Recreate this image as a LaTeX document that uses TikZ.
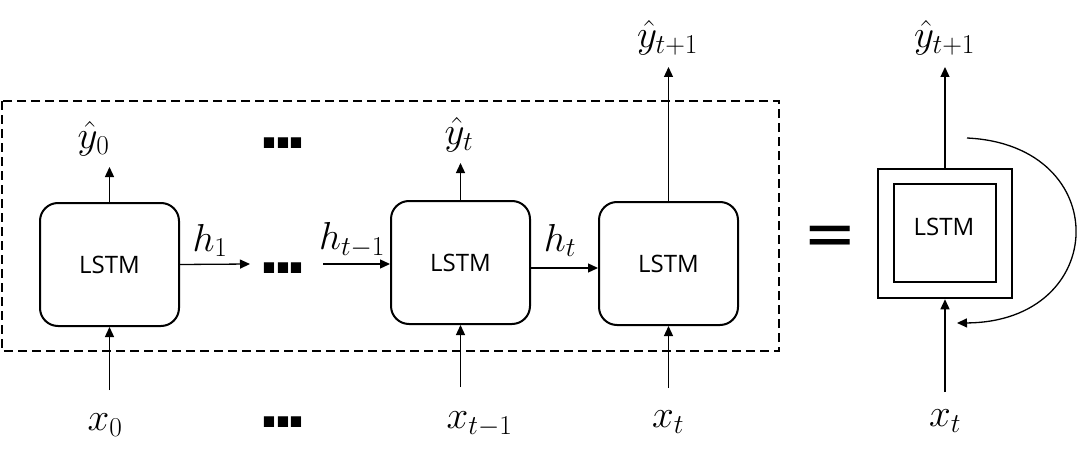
\documentclass[tikz,border=0pt]{standalone}
\usepackage{fix-cm}
\usepackage{fontspec}
\newfontfamily\lstmfont{Open Sans}
\newfontfamily\dotfont{Liberation Sans}
\newfontfamily\eqfont{DejaVu Sans}
\usetikzlibrary{arrows.meta}
\begin{document}
\begin{tikzpicture}[x=1pt,y=-1pt,
  cell/.style={draw,line width=2pt,rounded corners=18pt,minimum width=139pt,minimum height=123pt,inner sep=0pt,font=\lstmfont\fontsize{24}{28}\selectfont},
  sqbox/.style={draw,inner sep=0pt},
  arr/.style={line width=1.3pt,-{Triangle[length=10pt,width=9pt]}},
  lbl/.style={inner sep=0pt,font=\fontsize{39}{44}\selectfont},
  dotsnode/.style={inner sep=0pt,font=\dotfont\bfseries\fontsize{72}{80}\selectfont},
  frame/.style={line width=2pt,dash pattern=on 9pt off 5pt}
]
\useasboundingbox (0,0) rectangle (1077,452);
% dashed frame
\draw[frame] (2,101) rectangle (779,351);
% cells
\node[cell] (b1) at (109.5,264.5) {LSTM};
\node[cell] (b2) at (460.5,262.5) {LSTM};
\node[cell] (b3) at (668.5,263.5) {LSTM};
% right compact cell
\node[sqbox,line width=2.5pt,minimum width=134pt,minimum height=129pt] (outer) at (945,233.5) {};
\node[sqbox,line width=2pt,minimum width=102pt,minimum height=98pt] (inner) at (945,233) {};
\node[inner sep=0pt,font=\lstmfont\fontsize{24}{28}\selectfont] (rl) at (944,226.5) {LSTM};
% labels
\node[lbl] (y0) at (93.5,138.5) {$\hat{y}_0$};
\node[lbl] (x0) at (105,425.5) {$x_0$};
\node[lbl] (h1) at (210,240.5) {$h_1$};
\node[lbl] (ht1) at (352,240.5) {$h_{t-1}$};
\node[lbl] (yt) at (459,135) {$\hat{y}_t$};
\node[lbl] (xt1) at (479.5,424) {$x_{t-1}$};
\node[lbl] (ht) at (560,240.5) {$h_t$};
\node[lbl] (ytp) at (667.5,37.5) {$\hat{y}_{t+1}$};
\node[lbl] (xt) at (668,422.5) {$x_t$};
\node[lbl] (rytp) at (944.5,37.5) {$\hat{y}_{t+1}$};
\node[lbl] (rxt) at (945,421) {$x_t$};
% dots
\node[dotsnode] (d1) at (283,143) {.\kern-7pt.\kern-7pt.};
\node[dotsnode] (d2) at (283,268) {.\kern-7pt.\kern-7pt.};
\node[dotsnode] (d3) at (283,422) {.\kern-7pt.\kern-7pt.};
% equals
\node[inner sep=0pt,xscale=1.1,yscale=1.15,font=\eqfont\fontsize{58}{64}\selectfont] (eq) at (830.5,241) {=};
% arrow end coordinates
\coordinate (y0e) at (110,167);
\coordinate (yte) at (461,163);
\coordinate (ytpe) at (668,67);
\coordinate (rytpe) at (945,67);
\coordinate (x0s) at (110,390);
\coordinate (xt1s) at (461,387);
\coordinate (xts) at (668,388);
\coordinate (rxts) at (945,392);
\coordinate (h1e) at (250,264);
\coordinate (ht1s) at (323,264);
\coordinate (htc) at (560,268);
\coordinate (ls) at (967,138);
\coordinate (le) at (957,323);
% connectors
\draw[arr] (b1.north) -- (b1.north |- y0e);
\draw[arr] (b2.north) -- (b2.north |- yte);
\draw[arr] (b3.north) -- (b3.north |- ytpe);
\draw[arr] (outer.north) -- (outer.north |- rytpe);
\draw[arr] (b1.south |- x0s) -- (b1.south);
\draw[arr] (b2.south |- xt1s) -- (b2.south);
\draw[arr] (b3.south |- xts) -- (b3.south);
\draw[arr] (outer.south |- rxts) -- (outer.south);
\draw[arr] (b1.east) -- (h1e);
\draw[arr] (ht1s) -- (ht1s -| b2.west);
\draw[arr] (b2.east |- htc) -- (b3.west |- htc);
\draw[arr] (ls) .. controls (1115,145) and (1110,322) .. (le);
\end{tikzpicture}
\end{document}
